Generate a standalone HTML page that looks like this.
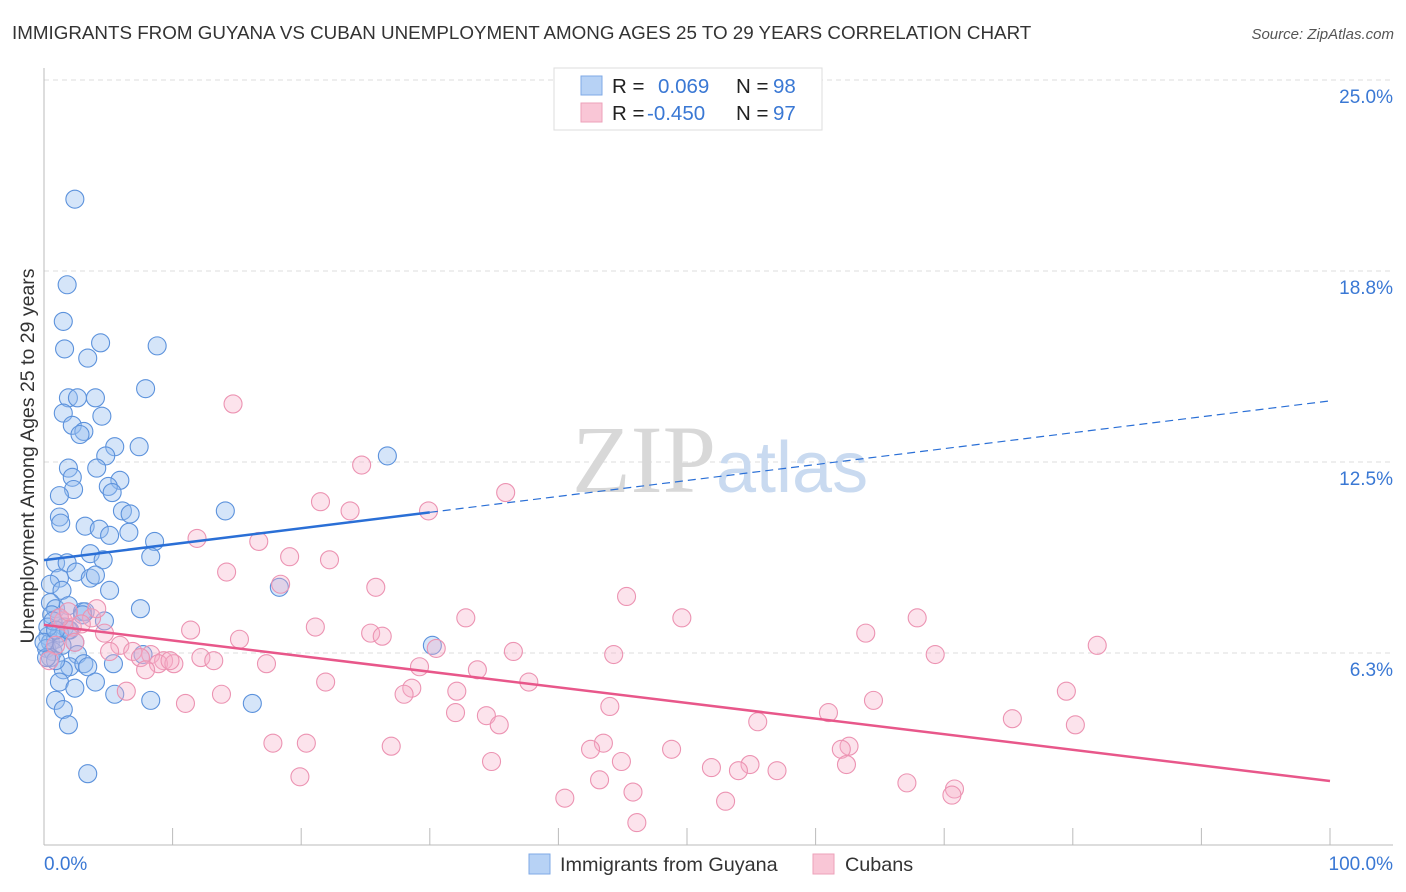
<!DOCTYPE html>
<html><head><meta charset="utf-8">
<style>
body{margin:0;background:#fff;width:1406px;height:892px;overflow:hidden;font-family:"Liberation Sans",sans-serif;}
svg{position:absolute;left:0;top:0}
</style></head>
<body>
<svg id="chart" width="1406" height="892">
  <text x="12" y="39" font-size="18.8" fill="#333">IMMIGRANTS FROM GUYANA VS CUBAN UNEMPLOYMENT AMONG AGES 25 TO 29 YEARS CORRELATION CHART</text>
  <text x="1394" y="39" font-size="15" fill="#555" font-style="italic" text-anchor="end">Source: ZipAtlas.com</text>
  <g id="grid"></g>
  <text x="716" y="492" font-size="96" fill="#d8d8d8" text-anchor="end" font-family="Liberation Serif">ZIP</text>
  <text x="716" y="492" font-size="72" fill="#c9daf0">atlas</text>
  <g id="axes"></g>
  <g id="blue-pts"></g>
  <g id="pink-pts"></g>
  <g id="trends"></g>
  <text transform="translate(34,456) rotate(-90)" font-size="19.5" fill="#333" text-anchor="middle">Unemployment Among Ages 25 to 29 years</text>
  <g>
    <rect x="554" y="68" width="268" height="62" fill="#fff" stroke="#ddd"/>
    <rect x="581" y="76" width="21" height="19" fill="#b7d2f5" stroke="#7fa9e6"/>
    <rect x="581" y="103" width="21" height="19" fill="#f9c6d6" stroke="#eda1ba"/>
    <text x="612" y="93" font-size="20.5" fill="#222">R =</text>
    <text x="658" y="93" font-size="20.5" fill="#3a78d4">0.069</text>
    <text x="736" y="93" font-size="20.5" fill="#222">N =</text>
    <text x="773" y="93" font-size="20.5" fill="#3a78d4">98</text>
    <text x="612" y="120" font-size="20.5" fill="#222">R =</text>
    <text x="647" y="120" font-size="20.5" fill="#3a78d4">-0.450</text>
    <text x="736" y="120" font-size="20.5" fill="#222">N =</text>
    <text x="773" y="120" font-size="20.5" fill="#3a78d4">97</text>
  </g>
  <g>
    <rect x="529" y="854" width="21" height="20" fill="#b7d2f5" stroke="#7fa9e6"/>
    <text x="560" y="871" font-size="19.8" fill="#333">Immigrants from Guyana</text>
    <rect x="813" y="854" width="21" height="20" fill="#f9c6d6" stroke="#eda1ba"/>
    <text x="845" y="871" font-size="19.8" fill="#333">Cubans</text>
  </g>
</svg>
<script>
const yTicks=[6.25,12.5,18.75,25];
const yTickLabels=["6.3%","12.5%","18.8%","25.0%"];
const xTicks=[0,10,20,30,40,50,60,70,80,90,100];
const xEndLabels=["0.0%","100.0%"];
const guyanaX=[2.4,1.8,1.5,1.6,4.4,8.8,3.4,1.9,4.0,7.9,1.5,2.6,4.5,2.2,3.1,2.8,5.5,7.4,4.8,1.9,4.1,2.2,2.3,5.9,5.0,5.3,1.2,26.7,14.1,6.1,6.7,1.2,1.3,3.2,4.3,5.1,6.6,8.6,3.6,8.3,0.9,1.8,4.6,1.2,2.5,3.6,4.0,0.5,1.4,0.5,0.9,1.9,3.0,3.2,7.5,18.3,4.7,0.6,1.2,1.6,2.0,0.3,0.5,0.9,1.2,2.4,0.2,0.7,1.4,2.6,0.5,30.2,2.0,3.1,3.4,5.4,1.5,1.2,2.4,4.0,0.9,5.5,8.3,16.2,1.5,1.9,3.4,7.7,0.3,0.7,1.9,0.9,0.2,0.0,0.9,5.1,3.0];
const guyanaY=[21.1,18.3,17.1,16.2,16.4,16.3,15.9,14.6,14.6,14.9,14.1,14.6,14.0,13.7,13.5,13.4,13.0,13.0,12.7,12.3,12.3,12.0,11.6,11.9,11.7,11.5,11.4,12.7,10.9,10.9,10.8,10.7,10.5,10.4,10.3,10.1,10.2,9.9,9.5,9.4,9.2,9.2,9.3,8.7,8.9,8.7,8.8,8.5,8.3,7.9,7.7,7.8,7.6,7.6,7.7,8.4,7.3,7.5,7.4,7.1,7.0,6.8,6.6,6.7,6.9,6.6,6.4,6.3,6.5,6.2,6.1,6.5,5.8,5.9,5.8,5.9,5.7,5.3,5.1,5.3,4.7,4.9,4.7,4.6,4.4,3.9,2.3,6.2,7.1,7.3,7.0,6.0,6.1,6.6,7.0,8.3,7.5];
const cubanX=[14.7,24.7,35.9,21.5,23.8,29.9,11.9,16.7,19.1,22.2,14.2,25.8,18.4,45.3,32.8,49.6,67.9,63.9,81.9,21.1,25.4,26.3,15.2,11.4,4.7,3.7,1.5,2.2,2.9,5.9,6.9,8.3,9.3,8.9,10.1,12.2,13.2,17.3,30.5,36.5,44.3,69.3,29.2,33.7,37.7,21.9,28.6,32.1,28.0,79.5,6.4,13.8,64.5,11.0,44.0,32.0,34.4,35.4,55.5,61.0,75.3,80.2,17.8,20.4,27.0,43.5,42.5,48.8,62.6,62.0,54.9,34.8,44.9,62.4,51.9,54.0,57.0,19.9,43.2,67.1,70.8,45.8,70.6,40.5,53.0,46.1,4.1,2.4,5.1,0.9,7.5,0.4,1.2,1.9,7.9,9.8];
const cubanY=[14.4,12.4,11.5,11.2,10.9,10.9,10.0,9.9,9.4,9.3,8.9,8.4,8.5,8.1,7.4,7.4,7.4,6.9,6.5,7.1,6.9,6.8,6.7,7.0,6.9,7.4,7.3,7.1,7.2,6.5,6.3,6.2,6.0,5.9,5.9,6.1,6.0,5.9,6.4,6.3,6.2,6.2,5.8,5.7,5.3,5.3,5.1,5.0,4.9,5.0,5.0,4.9,4.7,4.6,4.5,4.3,4.2,3.9,4.0,4.3,4.1,3.9,3.3,3.3,3.2,3.3,3.1,3.1,3.2,3.1,2.6,2.7,2.7,2.6,2.5,2.4,2.4,2.2,2.1,2.0,1.8,1.7,1.6,1.5,1.4,0.7,7.7,6.6,6.3,6.5,6.1,6.0,7.4,7.6,5.7,6.0];
const guyanaTrend=[9.29,14.5];
const cubanTrend=[7.17,2.06];
const guyanaSolidEnd=30;

const NS="http://www.w3.org/2000/svg";
const xS=v=>44+v*12.86;
const yS=v=>844-v*30.56;
function mk(tag,attrs,parent){const e=document.createElementNS(NS,tag);for(const k in attrs)e.setAttribute(k,attrs[k]);parent.appendChild(e);return e;}
const grid=document.getElementById('grid'),axes=document.getElementById('axes');
yTicks.forEach((t,i)=>{
  const l=mk('line',{x1:44,x2:1393,y1:yS(t),y2:yS(t),stroke:'#ddd','stroke-dasharray':'5,4'},grid);
  
  
  const tx=mk('text',{x:1393,y:yS(t)+23,'font-size':19,fill:'#3a78d4','text-anchor':'end'},axes);
  tx.textContent=yTickLabels[i];
  
  
});
mk('line',{x1:44,x2:44,y1:68,y2:845,stroke:'#bbb'},axes);
mk('line',{x1:44,x2:1393,y1:845,y2:845,stroke:'#bbb'},axes);
xTicks.forEach(t=>{
  const l=mk('line',{x1:xS(t),x2:xS(t),y1:828,y2:845,stroke:'#bbb'},axes);
  
  
});
const xl0=mk('text',{x:44,y:870,'font-size':19,fill:'#3a78d4'},axes);xl0.textContent=xEndLabels[0];


const xl1=mk('text',{x:1393,y:870,'font-size':19,fill:'#3a78d4','text-anchor':'end'},axes);xl1.textContent=xEndLabels[1];



const bp=document.getElementById('blue-pts');
guyanaX.forEach((x,i)=>{
  const c=mk('circle',{cx:xS(x),cy:yS(guyanaY[i]),r:9,fill:'rgba(150,190,240,0.4)',stroke:'#5c92dc','stroke-width':1.1},bp);
  
  
});
const pp=document.getElementById('pink-pts');
cubanX.forEach((x,i)=>{
  const c=mk('circle',{cx:xS(x),cy:yS(cubanY[i]),r:9,fill:'rgba(246,175,200,0.35)',stroke:'#ec93b2','stroke-width':1.1},pp);
  
  
});
const tr=document.getElementById('trends');
const gy=v=>guyanaTrend[0]+(guyanaTrend[1]-guyanaTrend[0])*v/100;
const b1=mk('line',{x1:xS(0),y1:yS(gy(0)),x2:xS(guyanaSolidEnd),y2:yS(gy(guyanaSolidEnd)),stroke:'#2a6fd6','stroke-width':2.5},tr);


const b2=mk('line',{x1:xS(guyanaSolidEnd),y1:yS(gy(guyanaSolidEnd)),x2:xS(100),y2:yS(gy(100)),stroke:'#2a6fd6','stroke-width':1.2,'stroke-dasharray':'8,5'},tr);


const p1=mk('line',{x1:xS(0),y1:yS(cubanTrend[0]),x2:xS(100),y2:yS(cubanTrend[1]),stroke:'#e8578a','stroke-width':2.5},tr);


</script>
</body></html>
